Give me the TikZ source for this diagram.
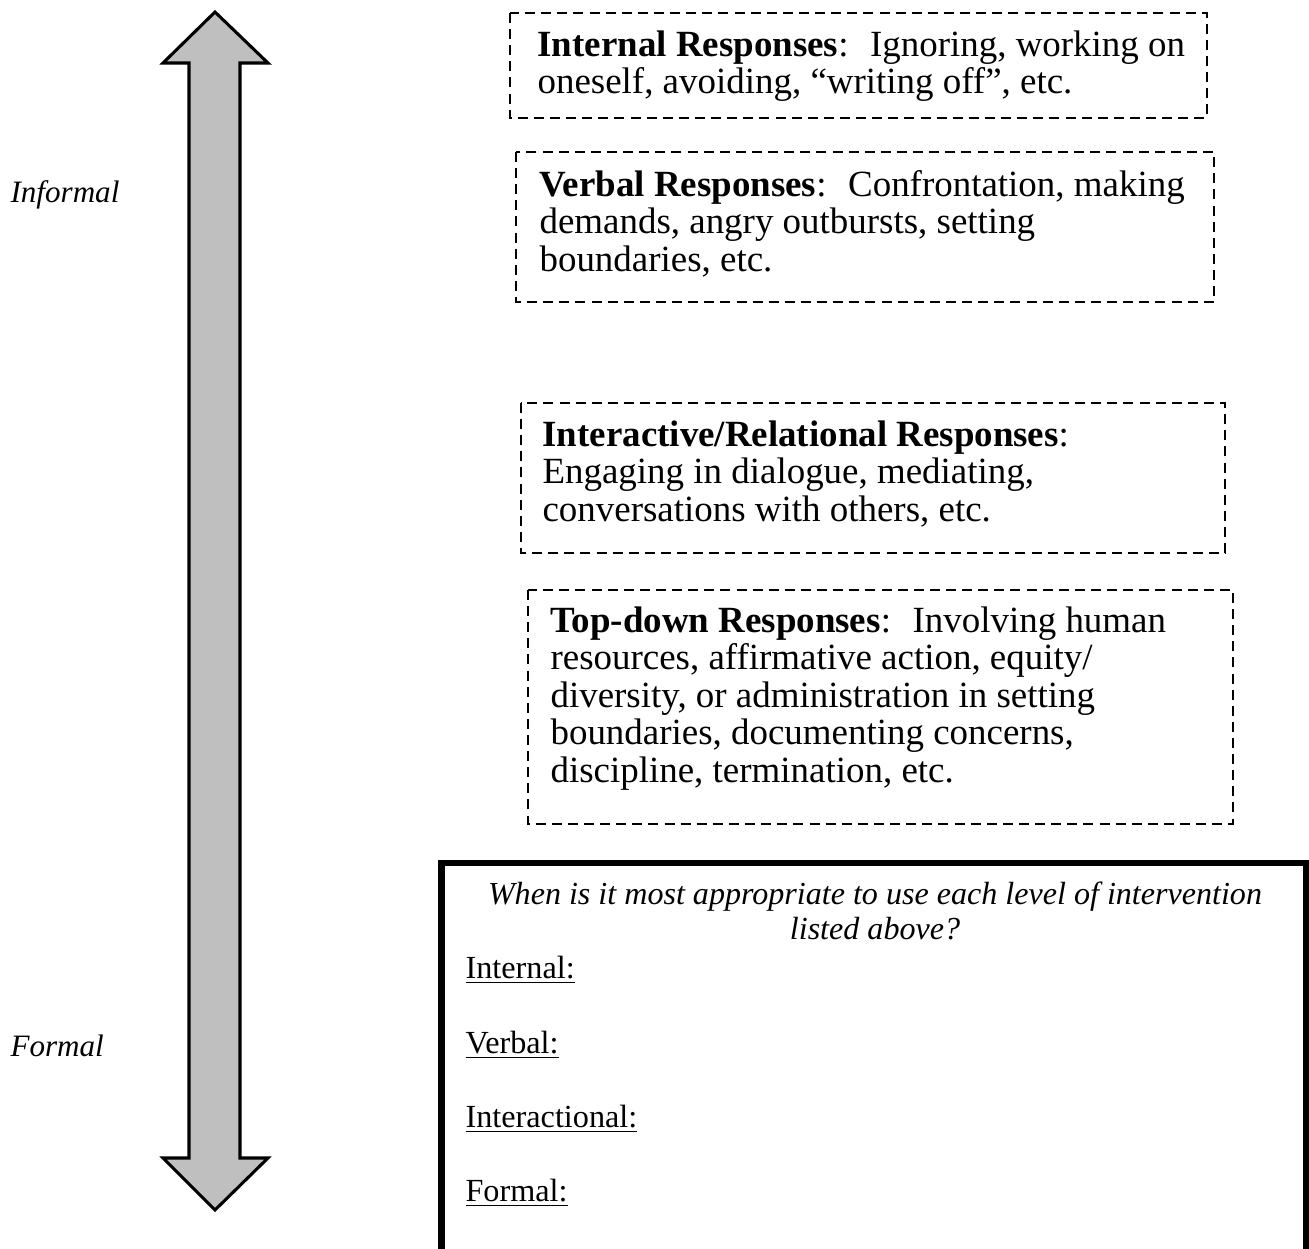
\documentclass[tikz,border=0pt]{standalone}
\usepackage{fontspec}
\setmainfont{Liberation Serif}

\tikzset{
  respbox/.style={line width=0.7pt, dash pattern=on 3.6pt off 2.2pt},
  % base of a multi-line node sits on its last line
  resptext/.style={anchor=base west, align=left, inner sep=0pt,
    font=\fontsize{13.3}{13.5}\selectfont},
  scalelabel/.style={anchor=base west, inner sep=0pt,
    font=\fontsize{11.2}{12.6}\selectfont\itshape},
  fieldlabel/.style={anchor=base west, inner sep=0pt,
    font=\fontsize{11.6}{12.6}\selectfont}
}

\begin{document}
\begin{tikzpicture}[x=0.36pt,y=-0.36pt]
\useasboundingbox (0,0) rectangle (1309,1249);

% Two-headed scale arrow, informal (top) to formal (bottom)
\draw[line width=1.1pt, fill=black!25, line join=miter]
  (215,12) -- (268,63) -- (240,63) -- (240,1158) -- (268,1158)
  -- (215,1210) -- (163,1158) -- (189,1158) -- (189,63) -- (163,63) -- cycle;
\node[scalelabel] (informal) at (10,203) {Informal};
\node[scalelabel] (formal) at (10,1056) {Formal};

% Internal
\draw[respbox] (510,13) rectangle (1207,118);
\node[resptext] (internal) at (537,94)
  {\textbf{Internal Responses}:~ Ignoring, working on\\
   oneself, avoiding, “writing off”, etc.};

% Verbal
\draw[respbox] (516,152) rectangle (1214,302);
\node[resptext] (verbal) at (539,271)
  {\textbf{Verbal Responses}:~ Confrontation, making\\
   demands, angry outbursts, setting\\
   boundaries, etc.};

% Interactive/relational
\draw[respbox] (521,403) rectangle (1225,553);
\node[resptext] (interactive) at (542,521)
  {\textbf{Interactive/Relational Responses}:\\
   Engaging in dialogue, mediating,\\
   conversations with others, etc.};

% Top-down
\draw[respbox] (528,590) rectangle (1233,824);
\node[resptext] (topdown) at (550,782)
  {\textbf{Top-down Responses}:~ Involving human\\
   resources, affirmative action, equity/\\
   diversity, or administration in setting\\
   boundaries, documenting concerns,\\
   discipline, termination, etc.};

% Question box, open at the bottom
\draw[line width=2.5pt, line cap=rect] (441.5,1270) -- (441.5,863) -- (1306,863) -- (1306,1270);
\node[anchor=base, align=center, inner sep=0pt,
  font=\fontsize{11.55}{12.6}\selectfont\itshape] (question) at (875,939)
  {When is it most appropriate to use each level of intervention\\
   listed above?};
\node[fieldlabel] (qinternal) at (465,978) {\underline{Internal:}};
\node[fieldlabel] (qverbal) at (465,1053) {\underline{Verbal:}};
\node[fieldlabel] (qinteract) at (465,1127) {\underline{Interactional:}};
\node[fieldlabel] (qformal) at (465,1201) {\underline{Formal:}};

\end{tikzpicture}
\end{document}
